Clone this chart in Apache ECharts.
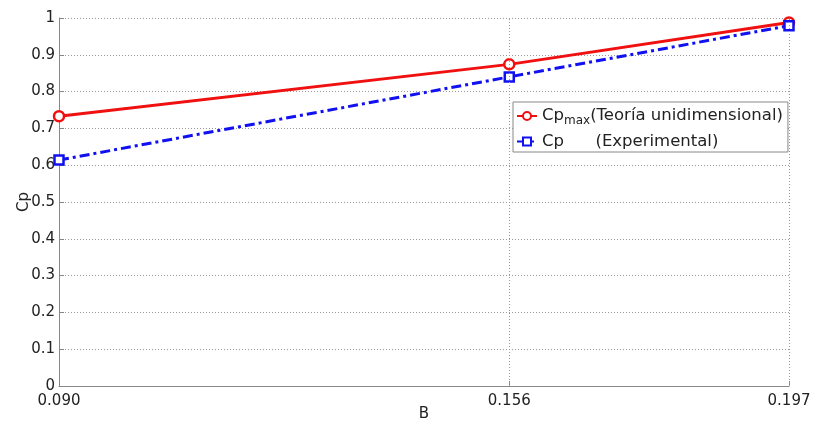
<!DOCTYPE html>
<html><head><meta charset="utf-8">
<script src="https://cdn.jsdelivr.net/npm/echarts@6/dist/echarts.min.js"></script>
<style>html,body{margin:0;padding:0;background:#fff}#c{width:813px;height:422px}</style>
</head><body><div id="c"></div>
<script>
const bValues = [0.090, 0.156, 0.197];
const xTickLabels = ['0.090', '0.156', '0.197'];
const cpMaxTeoria = [0.733, 0.874, 0.988];
const cpExperimental = [0.614, 0.840, 0.979];

const font = 'DejaVu Sans';
const chart = echarts.init(document.getElementById('c'));
chart.setOption({
  animation: false,
  textStyle: {fontFamily: font},
  grid: {left: 59, right: 24, top: 18, bottom: 36, show: false, containLabel: false, outerBoundsMode: 'none'},
  legend: {
    left: 513, top: 102, orient: 'vertical',
    backgroundColor: '#fff', borderColor: '#888', borderWidth: 1,
    padding: [3, 5, 2, 3], itemGap: 6, itemWidth: 20, itemHeight: 10,
    textStyle: {fontFamily: font, fontSize: 16.5, color: '#222',
      rich: {
        a: {fontSize: 16.5, fontFamily: font, color: '#222', lineHeight: 22},
        sub: {fontSize: 12, fontFamily: font, color: '#222', lineHeight: 22, padding: [10, 0, 0, 0]}
      }
    },
    formatter: function (name) {
      if (name === 'max') return '{a|Cp}{sub|max}{a|(Teoría unidimensional)}';
      return '{a|Cp      (Experimental)}';
    },
    data: ['max', 'exp']
  },
  xAxis: {
    type: 'value', min: 0.09, max: 0.197,
    name: 'B', nameLocation: 'middle', nameGap: 21, nameMoveOverlap: false,
    nameTextStyle: {fontSize: 15, color: '#222', fontFamily: font},
    axisLine: {lineStyle: {color: '#888'}},
    axisTick: {inside: true, length: 5, lineStyle: {color: '#888'}, customValues: bValues},
    axisLabel: {customValues: bValues, fontSize: 15, color: '#222', margin: 8,
      formatter: function (v) { const i = bValues.findIndex(b => Math.abs(b - v) < 1e-6); return i >= 0 ? xTickLabels[i] : ''; }},
    splitLine: {show: false}
  },
  yAxis: {
    type: 'value', min: 0, max: 1, interval: 0.1,
    name: 'Cp', nameLocation: 'middle', nameGap: 27, nameMoveOverlap: false,
    nameTextStyle: {fontSize: 15, color: '#222', fontFamily: font},
    axisLine: {show: true, lineStyle: {color: '#888'}},
    axisTick: {show: true, inside: true, length: 5, lineStyle: {color: '#888'}},
    axisLabel: {fontSize: 15, color: '#222', margin: 4,
      formatter: function (v) { return String(+v.toFixed(1)); }},
    splitLine: {show: true, lineStyle: {color: '#999', type: [1, 2], width: 1}}
  },
  series: [
    {
      name: 'max', type: 'line',
      data: bValues.map((b, i) => [b, cpMaxTeoria[i]]),
      symbol: 'circle', symbolSize: 10,
      itemStyle: {color: '#fff', borderColor: '#f01010', borderWidth: 2.5},
      lineStyle: {color: '#f01010', width: 3},
      z: 3,
      markLine: {
        silent: true, symbol: 'none', label: {show: false}, precision: 4,
        lineStyle: {color: '#999', type: [1, 2], width: 1},
        data: bValues.slice(1).map(b => [{coord: [b, 0]}, {coord: [b, 1]}])
      }
    },
    {
      name: 'exp', type: 'line',
      data: bValues.map((b, i) => [b, cpExperimental[i]]),
      symbol: 'rect', symbolSize: 9,
      itemStyle: {color: '#fff', borderColor: '#1010f0', borderWidth: 2.5},
      lineStyle: {color: '#1010f0', width: 3, type: [10, 4, 3, 4]},
      z: 4
    }
  ]
});
</script>
</body></html>
